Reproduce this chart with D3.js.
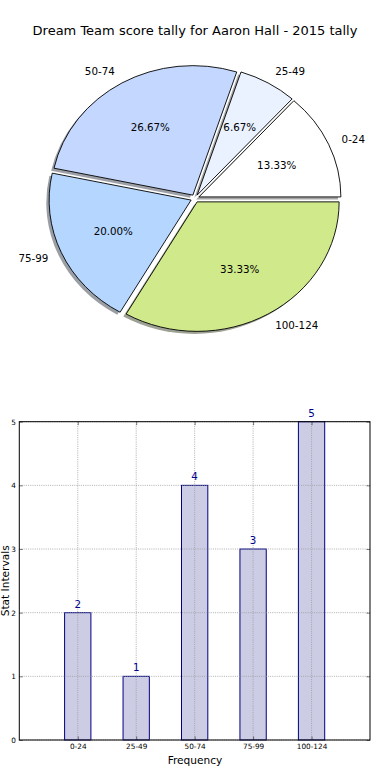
<!DOCTYPE html>
<html>
<head>
<meta charset="utf-8">
<script src="https://cdn.jsdelivr.net/npm/d3@7/dist/d3.min.js"></script>
<style>
html,body{margin:0;padding:0;background:#fff;}
svg{display:block;font-family:"DejaVu Sans",sans-serif;}
</style>
</head>
<body>
<svg id="chart" width="390" height="780"></svg>
<script>
// ---- data ----
const categories = ["0-24", "25-49", "50-74", "75-99", "100-124"];
const counts = [2, 1, 4, 3, 5];
const pieColors = ["#ffffff", "#eaf2ff", "#c4d8ff", "#b4d6ff", "#cfe98b"];
const yTicks = [0, 1, 2, 3, 4, 5];
const titleText = "Dream Team score tally for Aaron Hall - 2015 tally";

const svg = d3.select("#chart");

// ---- title ----
svg.append("text")
  .attr("x", 195).attr("y", 34.5)
  .attr("text-anchor", "middle")
  .attr("font-size", 13)
  .attr("fill", "#000")
  .text(titleText);

// ---- pie (elliptical, like matplotlib without equal aspect) ----
const cx = 195, cy = 198.5, rx = 142, ry = 129.5;
const explode = 0.03, shadowOff = 0.02;
const total = d3.sum(counts);
const pie = d3.pie().sort(null).startAngle(Math.PI / 2).endAngle(Math.PI / 2 - 2 * Math.PI);
const arcs = pie(counts);
const arc = d3.arc().innerRadius(0).outerRadius(1);

function shift(d) {
  const m = (d.startAngle + d.endAngle) / 2;
  return [cx + explode * rx * Math.sin(m), cy - explode * ry * Math.cos(m)];
}

const pieG = svg.append("g");
// shadows
arcs.forEach((d, i) => {
  const [x, y] = shift(d);
  const c = d3.rgb(pieColors[i]);
  pieG.append("path")
    .attr("d", arc(d))
    .attr("transform", `translate(${x - shadowOff * rx},${y + shadowOff * ry}) scale(${rx},${ry})`)
    .attr("fill", d3.rgb(c.r * 0.3, c.g * 0.3, c.b * 0.3))
    .attr("fill-opacity", 0.5)
    .attr("stroke", "none");
});
// wedges
arcs.forEach((d, i) => {
  const [x, y] = shift(d);
  pieG.append("path")
    .attr("d", arc(d))
    .attr("transform", `translate(${x},${y}) scale(${rx},${ry})`)
    .attr("fill", pieColors[i])
    .attr("stroke", "#000")
    .attr("stroke-width", 0.9)
    .attr("stroke-linejoin", "round")
    .attr("vector-effect", "non-scaling-stroke");
});
// labels & percents
arcs.forEach((d, i) => {
  const [x, y] = shift(d);
  const m = (d.startAngle + d.endAngle) / 2;
  const sx = Math.sin(m), sy = -Math.cos(m);
  const lx = x + 1.1 * rx * sx, ly = y + 1.1 * ry * sy;
  svg.append("text")
    .attr("x", lx).attr("y", ly)
    .attr("dy", "0.35em")
    .attr("text-anchor", sx > 0 ? "start" : "end")
    .attr("font-size", 10.3)
    .text(categories[i]);
  svg.append("text")
    .attr("x", x + 0.6 * rx * sx).attr("y", y + 0.6 * ry * sy)
    .attr("dy", "0.35em")
    .attr("text-anchor", "middle")
    .attr("font-size", 10.3)
    .text((d.value / total * 100).toFixed(2) + "%");
});

// ---- bar chart ----
const L = 19.3, R = 370, T = 421.7, B = 740;
const x = d3.scaleLinear().domain([-1, categories.length]).range([L, R]);
const y = d3.scaleLinear().domain([0, d3.max(yTicks)]).range([B, T]);
const barW = 0.45;
const g = svg.append("g");

g.selectAll("rect.bar").data(counts).join("rect")
  .attr("class", "bar")
  .attr("x", (d, i) => x(i - barW / 2))
  .attr("width", (d, i) => x(i + barW / 2) - x(i - barW / 2))
  .attr("y", d => y(d))
  .attr("height", d => y(0) - y(d))
  .attr("fill", "#ccccE5")
  .attr("stroke", "#000080")
  .attr("stroke-width", 1);

// grid (drawn over bars)
const xIdx = d3.range(categories.length);
g.selectAll("line.vg").data(xIdx).join("line")
  .attr("x1", d => x(d)).attr("x2", d => x(d))
  .attr("y1", T).attr("y2", B)
  .attr("stroke", "#9a9a9a").attr("stroke-width", 0.8)
  .attr("stroke-dasharray", "1,1.2");
g.selectAll("line.hg").data(yTicks).join("line")
  .attr("x1", L).attr("x2", R)
  .attr("y1", d => y(d)).attr("y2", d => y(d))
  .attr("stroke", "#9a9a9a").attr("stroke-width", 0.8)
  .attr("stroke-dasharray", "1,1.2");

// axes
const yAxisL = d3.axisLeft(y).tickValues(yTicks).tickSize(-3.5).tickPadding(3.5).tickFormat(d3.format("d"));
const yAxisR = d3.axisRight(y).tickValues(yTicks).tickSize(-3.5).tickFormat("");
const xAxisB = d3.axisBottom(x).tickValues(xIdx).tickSize(-3.5).tickPadding(3.5).tickFormat(i => categories[i]);
const xAxisT = d3.axisTop(x).tickValues(xIdx).tickSize(-3.5).tickFormat("");

function styleAxis(sel) {
  sel.select(".domain").remove();
  sel.selectAll(".tick line").attr("stroke", "#000").attr("stroke-width", 0.5);
  sel.selectAll(".tick text").attr("font-family", "DejaVu Sans").attr("font-size", 7.3).attr("fill", "#000");
}
svg.append("g").attr("transform", `translate(${L},0)`).call(yAxisL).call(styleAxis);
svg.append("g").attr("transform", `translate(${R},0)`).call(yAxisR).call(styleAxis);
svg.append("g").attr("transform", `translate(0,${B})`).call(xAxisB).call(styleAxis);
svg.append("g").attr("transform", `translate(0,${T})`).call(xAxisT).call(styleAxis);

// frame
svg.append("rect")
  .attr("x", L).attr("y", T).attr("width", R - L).attr("height", B - T)
  .attr("fill", "none").attr("stroke", "#000").attr("stroke-width", 1);

// value labels
g.selectAll("text.val").data(counts).join("text")
  .attr("class", "val")
  .attr("x", (d, i) => x(i))
  .attr("y", d => y(d) - 5)
  .attr("text-anchor", "middle")
  .attr("font-size", 10.3)
  .attr("fill", "#00008b")
  .text(d => d);

// axis labels
svg.append("text")
  .attr("x", 195).attr("y", 763.5)
  .attr("text-anchor", "middle")
  .attr("font-size", 10.6)
  .text("Frequency");
svg.append("text")
  .attr("transform", `translate(8.6,${(T + B) / 2}) rotate(-90)`)
  .attr("text-anchor", "middle")
  .attr("font-size", 10.6)
  .text("Stat Intervals");
</script>
</body>
</html>
